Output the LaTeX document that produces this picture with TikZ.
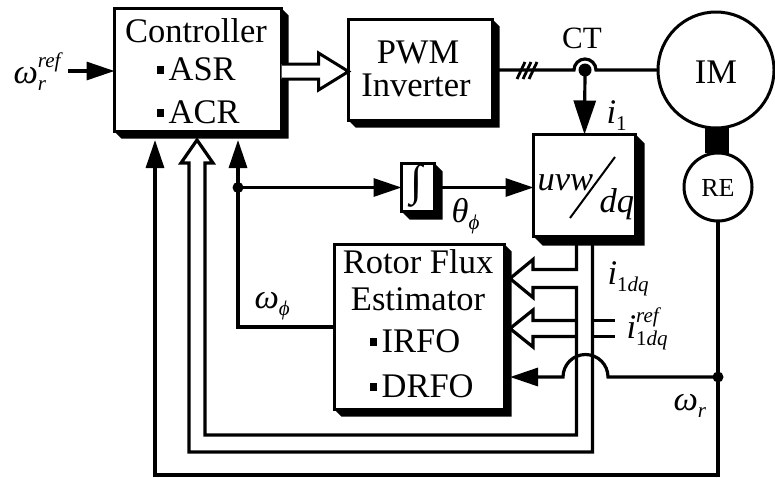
\documentclass[tikz,border=0pt]{standalone}
\usepackage{fontspec}
\setmainfont{Liberation Serif}
\usetikzlibrary{arrows.meta,calc}
\newcommand\fbig{\fontsize{34.5}{36}\selectfont}
\newcommand\fsm{\fontsize{21}{22}\selectfont}
\newcommand\blt{\rule[6pt]{7pt}{8pt}\hspace{5pt}}
\newcommand\symlab[3]{\textit{#1}\makebox[0pt][l]{\raisebox{0.45em}{\fsm\textit{#2}}}\raisebox{-0.22em}{\fsm\textit{#3}}}
\newcommand\shad[2]{\fill (#1.north east) -- ++(#2pt,-#2pt) -- ($(#1.south east)+(#2pt,-#2pt)$) -- ($(#1.south west)+(#2pt,-#2pt)$) -- (#1.south west) -- (#1.south east) -- cycle;}
\tikzset{
  blk/.style={draw, line width=3pt, fill=white, inner sep=0pt, outer sep=0pt},
  ring/.style={draw, circle, line width=3pt, inner sep=0pt, outer sep=0pt},
  arr/.style={-{Triangle[length=28pt,width=18pt]}},
  bigarr/.style={-{Triangle[length=34pt,width=22pt]}},
  txt/.style={inner sep=0pt, font=\fbig},
  hol/.style={line join=miter}
}
\begin{document}
\begin{tikzpicture}[x=1pt,y=-1pt,line width=3.2pt]
\useasboundingbox (0,0) rectangle (775,477);
% boxes
\node[blk, minimum width=167pt, minimum height=123pt] (ctrl) at (198,70) {};
\node[blk, minimum width=144pt, minimum height=101pt] (pwm) at (420.5,70) {};
\node[blk, minimum width=102pt, minimum height=102pt] (uvw) at (584.5,185.5) {};
\node[blk, minimum width=33pt, minimum height=48pt] (integ) at (418,187.5) {};
\node[blk, minimum width=170pt, minimum height=165pt] (est) at (419.5,327) {};
\shad{ctrl}{7}
\shad{pwm}{7}
\shad{uvw}{9}
\shad{integ}{8}
\shad{est}{7}
\node[ring, minimum size=116pt] (im) at (716,70) {};
\node[ring, minimum size=68pt] (re) at (718,187) {};
\fill ($(im.south)+(-11pt,0)$) rectangle ($(re.north)+(11pt,0)$);
% coordinates
\coordinate (win) at (68,71);
\coordinate (ct) at (585,70);
\coordinate (j1) at (238,187.5);
\coordinate (c1) at (155,140);
\coordinate (c3) at (238,140);
\coordinate (wj) at (718,377);
% connectors
\draw[arr] (win) -- (win -| ctrl.west);
\draw[line width=3pt, fill=white, hol] ($(ctrl.east)+(0,-6)$) -- ($(pwm.west)+(-30,-6)$) -- ($(pwm.west)+(-30,-17)$) -- ($(pwm.west)+(0,1.5)$) -- ($(pwm.west)+(-30,20)$) -- ($(pwm.west)+(-30,9)$) -- ($(ctrl.east)+(0,9)$);
\draw (pwm.east) -- ($(ct)+(-11,0)$) arc[start angle=180, end angle=0, radius=11pt] -- (im.west);
\fill (ct) circle[radius=6.5pt];
\foreach \xx in {521,527,533} \draw[line width=2.8pt] (\xx-4,79) -- (\xx+4,62);
\draw[bigarr] (ct) -- (uvw.north);
\draw[arr] (j1) -- (integ.west);
\draw[arr] (integ.east) -- (integ.east -| uvw.west);
\draw[arr] (est.west) -| (c3);
\fill (j1) circle[radius=5.5pt];
\draw[arr] (re.south) -- (718,475) -| (c1);
\fill (wj) circle[radius=5.5pt];
\draw[arr] (wj) -- (608,377) arc[start angle=0, end angle=180, radius=22.5pt] -- (510,377);
\draw[hol] ($(uvw.south)+(-8,4)$) -- (576.5,269.5) -- (533,269.5) -- (533,259.5) -- (510,278.5) -- (533,297.5) -- (533,287.5) -- (576.5,287.5) -- (576.5,435) -- (205,435) -- (205,163) -- (213,163) -- (197,140) -- (181,163) -- (189,163) -- (189,452) -- (592.5,452) -- ($(uvw.south)+(8,4)$);
\draw[hol] (576.5,320.5) -- (533,320.5) -- (533,310) -- (510,328.5) -- (533,347) -- (533,336.5) -- (576.5,336.5);
\draw (592.5,320.5) -- (615,320.5) (592.5,336.5) -- (615,336.5);
% texts
\node[txt, anchor=base] (tctrl) at (196,42) {Controller};
\node[txt, anchor=base west] (tasr) at (155,80) {\blt ASR};
\node[txt, anchor=base west] (tacr) at (155,123) {\blt ACR};
\node[txt, anchor=base] (tpwm) at (418,63) {PWM};
\node[txt, anchor=base] (tinv) at (416,96) {Inverter};
\node[txt, anchor=base] (tim) at (716,83) {IM};
\node[txt, font=\fontsize{26}{27}\selectfont, anchor=base] (tre) at (718,196) {RE};
\node[txt, font=\fontsize{31}{32}\selectfont, anchor=base] (tct) at (582,48) {CT};
\node[txt, anchor=base] (trf) at (418,273) {Rotor Flux};
\node[txt, anchor=base] (tes) at (418,310) {Estimator};
\node[txt, anchor=base west] (tir) at (368,352) {\blt IRFO};
\node[txt, anchor=base west] (tdr) at (368,397) {\blt DRFO};
\node[txt, anchor=base west] (tuvw) at (536,190) {\textit{uvw}};
\node[txt, anchor=base west] (tdq) at (598,212) {\textit{dq}};
\draw[line width=2pt] (570,218) -- (615,157);
\node[txt, font=\fontsize{44}{44}\selectfont, anchor=center] (tint) at (417,186) {∫};
\node[txt, anchor=base west] (lwref) at (12,83) {\symlab{ω}{ref}{r}};
\node[txt, anchor=base west] (li1) at (605,123) {\symlab{i}{}{\upshape 1}};
\node[txt, anchor=base west] (lth) at (450,222) {\symlab{θ}{}{ϕ}};
\node[txt, anchor=base west] (lwp) at (253,308) {\symlab{ω}{}{ϕ}};
\node[txt, anchor=base west] (li1dq) at (606,284) {\symlab{i}{}{{\upshape 1}dq}};
\node[txt, anchor=base west] (liref) at (625,338) {\symlab{i}{ref}{{\upshape 1}dq}};
\node[txt, anchor=base west] (lwr) at (672,410) {\symlab{ω}{}{r}};
\end{tikzpicture}
\end{document}
